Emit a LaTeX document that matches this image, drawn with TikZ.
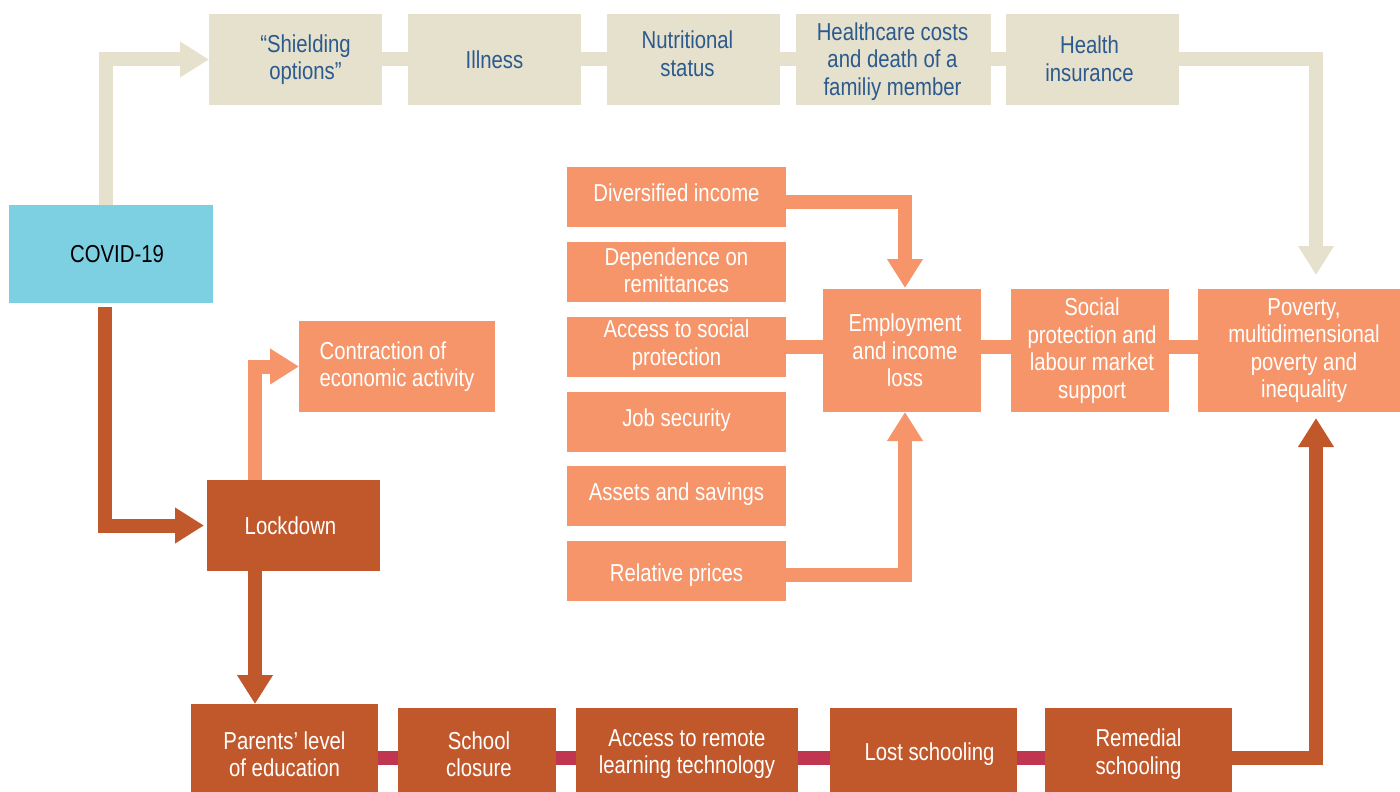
\documentclass[tikz,border=0pt]{standalone}
\usepackage{fontspec}
\setmainfont{Liberation Sans}[FakeStretch=0.83]
\usetikzlibrary{arrows.meta}
\definecolor{beige}{HTML}{E5E1CD}
\definecolor{topblue}{HTML}{2C5A8E}
\definecolor{covblue}{HTML}{7DCFE2}
\definecolor{salmon}{HTML}{F6956A}
\definecolor{rust}{HTML}{C1582B}
\definecolor{crimson}{HTML}{C0354F}
\newcommand{\bx}[7]{\node[box,#6,minimum width=#4pt,minimum height=#5pt] (#1) at (#2,#3) {#7};}
% box whose text sits slightly off centre: dx, dy (canvas, up positive)
\newcommand{\bxt}[9]{\node[box,#6,minimum width=#4pt,minimum height=#5pt] (#1) at (#2,#3) {};
  \node[box,#6,fill=none,anchor=center] (#1-t) at ([xshift=#7pt,yshift=#8pt]#1.center) {#9};}
\begin{document}
\begin{tikzpicture}[x=1pt,y=-1pt,
  box/.style={anchor=north west, inner sep=0pt, outer sep=0pt, align=center,
    font=\fontsize{24.5}{27.5}\selectfont},
  topbox/.style={fill=beige, text=topblue},
  covbox/.style={fill=covblue, text=black},
  salbox/.style={fill=salmon, text=white},
  rustbox/.style={fill=rust, text=white},
  band/.style={line width=14pt, line join=miter},
  bigtip/.style={-{Triangle[width=34pt,length=29pt]}}]
\useasboundingbox (0,0) rectangle (1400,792);
\clip (0,0) rectangle (1400,792);
% top row
\bxt{shield}{209}{14}{173}{91}{topbox}{10}{0}{“Shielding\\options”}
\bx{ill}{408}{14}{173}{91}{topbox}{Illness}
\bxt{nut}{607}{14}{173}{91}{topbox}{-6}{6}{Nutritional\\status}
\bxt{hc}{796}{14}{195}{91}{topbox}{-1}{-2}{Healthcare costs\\and death of a\\familiy member}
\bxt{hins}{1006}{14}{173}{91}{topbox}{-3}{1}{Health\\insurance}
% covid
\bxt{covid}{9}{205}{204}{98}{covbox}{6}{0}{COVID-19}
% lockdown / contraction
\bxt{lock}{207}{480}{173}{91}{rustbox}{-3}{0}{Lockdown}
\bx{contr}{299}{321}{196}{91}{salbox,align=left}{Contraction of\\economic activity}
% middle column
\bxt{div}{567}{167}{219}{60}{salbox}{0}{4}{Diversified income}
\bxt{dep}{567}{242}{219}{60}{salbox}{0}{2}{Dependence on\\remittances}
\bxt{acc}{567}{317}{219}{60}{salbox}{0}{2}{Access to social\\protection}
\bxt{job}{567}{392}{219}{60}{salbox}{0}{2}{Job security}
\bxt{ast}{567}{466}{219}{60}{salbox}{0}{2}{Assets and savings}
\bxt{rel}{567}{541}{219}{60}{salbox}{0}{-4}{Relative prices}
\bxt{emp}{823}{289}{158}{123}{salbox}{3}{0}{Employment\\and income\\loss}
\bxt{soc}{1011}{289}{158}{123}{salbox}{2}{0}{Social\\protection and\\labour market\\support}
\bxt{pov}{1198}{289}{202}{123}{salbox}{5}{0}{Poverty,\\multidimensional\\poverty and\\inequality}
% bottom row
\bx{par}{191}{704}{187}{100}{rustbox}{Parents’ level\\of education}
\bxt{sch}{398}{708}{158}{92}{rustbox}{2}{0}{School\\closure}
\bx{tech}{576}{708}{222}{92}{rustbox}{Access to remote\\learning technology}
\bxt{lost}{830}{708}{187}{92}{rustbox}{6}{0}{Lost schooling}
\bx{remd}{1045}{708}{187}{92}{rustbox}{Remedial\\schooling}
% top chain
\draw[band, beige] (shield.east) -- (ill.west);
\draw[band, beige] (ill.east) -- (nut.west);
\draw[band, beige] (nut.east) -- (hc.west);
\draw[band, beige] (hc.east) -- (hins.west);
\draw[band, beige, bigtip] ([xshift=97pt]covid.north west) |- (shield.west);
\draw[band, beige, bigtip] (hins.east) -| ([xshift=118pt,yshift=14pt]pov.north west);
% covid to lockdown
\draw[band, rust, bigtip] ([xshift=96pt,yshift=-4pt]covid.south west) |- ([xshift=-3pt]lock.west);
\draw[band, salmon, bigtip] ([xshift=48pt]lock.north west) |- (contr.west);
\draw[band, rust, bigtip] ([xshift=48pt]lock.south west) -- ([xshift=48pt]lock.south west |- par.north);
% middle
\draw[band, salmon, bigtip] ([yshift=-5pt]div.east) -| ([xshift=3pt,yshift=1pt]emp.north);
\draw[band, salmon, bigtip] ([yshift=-4pt]rel.east) -| ([xshift=3pt]emp.south);
\draw[band, salmon] (acc.east) -- (acc.east -| emp.west);
\draw[band, salmon] ([yshift=3.5pt]emp.east) -- ([yshift=3.5pt]soc.west);
\draw[band, salmon] ([yshift=3.5pt]soc.east) -- ([yshift=3.5pt]pov.west);
% bottom chain
\draw[band, crimson] ([yshift=-3.5pt]par.east) -- ([yshift=-3.5pt]sch.west);
\draw[band, crimson] ([yshift=-3.5pt]sch.east) -- ([yshift=-3.5pt]tech.west);
\draw[band, crimson] ([yshift=-3.5pt]tech.east) -- ([yshift=-3.5pt]lost.west);
\draw[band, crimson] ([yshift=-3.5pt]lost.east) -- ([yshift=-3.5pt]remd.west);
\draw[band, rust, bigtip] ([yshift=-3.5pt]remd.east) -| ([xshift=118pt,yshift=-6pt]pov.south west);
\end{tikzpicture}
\end{document}
